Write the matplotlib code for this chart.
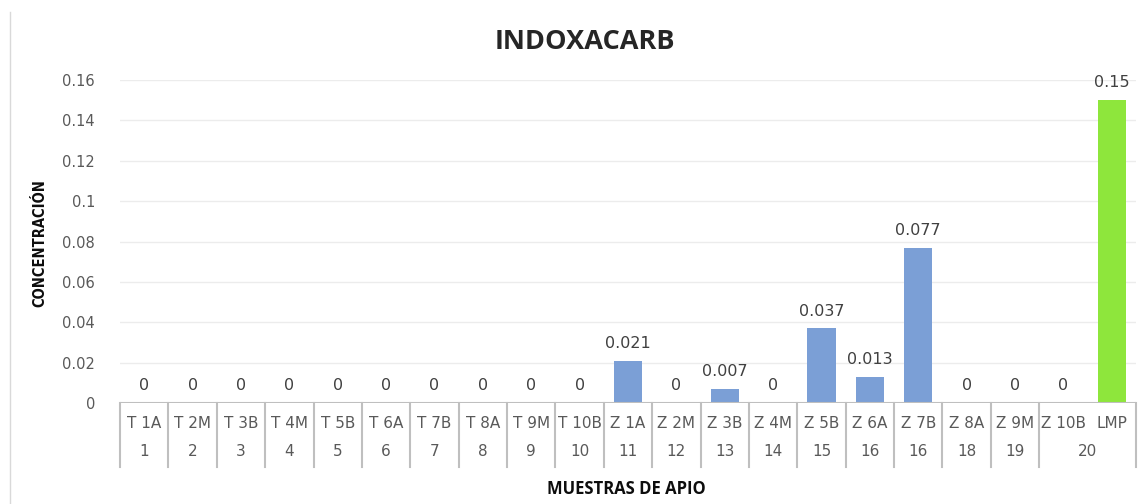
import matplotlib
matplotlib.use("Agg")
import matplotlib.pyplot as plt
from matplotlib.lines import Line2D

samples = ["T 1A", "T 2M", "T 3B", "T 4M", "T 5B", "T 6A", "T 7B", "T 8A", "T 9M", "T 10B",
           "Z 1A", "Z 2M", "Z 3B", "Z 4M", "Z 5B", "Z 6A", "Z 7B", "Z 8A", "Z 9M", "Z 10B", "LMP"]
groups = ["1", "2", "3", "4", "5", "6", "7", "8", "9", "10",
          "11", "12", "13", "14", "15", "16", "16", "18", "19", "20", "20"]
values = [0, 0, 0, 0, 0, 0, 0, 0, 0, 0,
          0.021, 0, 0.007, 0, 0.037, 0.013, 0.077, 0, 0, 0, 0.15]
labels = ["0", "0", "0", "0", "0", "0", "0", "0", "0", "0",
          "0.021", "0", "0.007", "0", "0.037", "0.013", "0.077", "0", "0", "0", "0.15"]
yticks = [0, 0.02, 0.04, 0.06, 0.08, 0.1, 0.12, 0.14, 0.16]
ytick_labels = ["0", "0.02", "0.04", "0.06", "0.08", "0.1", "0.12", "0.14", "0.16"]

BLUE = "#7b9fd6"
GREEN = "#8ee63c"
TXT = "#595959"

W, H = 1144, 504
fig = plt.figure(figsize=(W / 100, H / 100), dpi=100)
x0, x1, y0, y1 = 120, 1136, 403, 80
ax = fig.add_axes([x0 / W, 1 - y0 / H, (x1 - x0) / W, (y0 - y1) / H])

n = len(samples)
xs = list(range(n))
colors = [BLUE] * (n - 1) + [GREEN]
ax.bar(xs, values, width=0.58, color=colors, zorder=3)
for x, v, lab in zip(xs, values, labels):
    ax.annotate(lab, (x, v), xytext=(0, 7), textcoords="offset points",
                ha="center", va="bottom", fontsize=11.5, color="#404040",
                family="DejaVu Sans", annotation_clip=False)

ax.set_xlim(-0.5, n - 0.5)
ax.set_ylim(0, 0.16)
ax.set_yticks(yticks)
ax.set_yticklabels(ytick_labels, fontsize=10.5, color=TXT, family="DejaVu Sans")
ax.yaxis.grid(True, color="#ececec", linewidth=1, zorder=0)
ax.tick_params(axis="y", length=0, pad=18)
ax.set_xticks([])
for s in ax.spines.values():
    s.set_visible(False)
ax.axhline(0, color="#bfbfbf", linewidth=1.5, zorder=4)

# multi-level category axis
tr = ax.get_xaxis_transform()
row1 = (403 - 424) / (y0 - y1)
row2 = (403 - 452) / (y0 - y1)
bot = (403 - 467) / (y0 - y1)
for i in range(n + 1):
    xb = i - 0.5
    if i == n - 1:
        continue
    ax.add_line(Line2D([xb, xb], [0, bot], transform=tr, color="#bfbfbf",
                       linewidth=1.5, clip_on=False))
for x, s in zip(xs, samples):
    ax.text(x, row1, s, transform=tr, ha="center", va="center",
            fontsize=11, color=TXT, family="DejaVu Sans")
i = 0
while i < n:
    j = i
    if groups[i] == "20":
        while j + 1 < n and groups[j + 1] == groups[i]:
            j += 1
    ax.text((i + j) / 2, row2, groups[i], transform=tr, ha="center", va="center",
            fontsize=11, color=TXT, family="DejaVu Sans")
    i = j + 1

fig.text(585 / W, 1 - 42 / H, "INDOXACARB", ha="center", va="center",
         fontsize=19.5, fontweight="bold", color="#262626", family="Open Sans")
fig.text(626 / W, 1 - 489 / H, "MUESTRAS DE APIO", ha="center", va="center",
         fontsize=12, fontweight="bold", color="#0d0d0d", family="Open Sans")
fig.text(40 / W, 1 - 243 / H, "CONCENTRACIÓN", ha="center", va="center",
         rotation=90, fontsize=10.5, fontweight="bold", color="#0d0d0d",
         family="DejaVu Sans", stretch="condensed")

fig.add_artist(Line2D([10 / W, 10 / W], [0, 1 - 12 / H], transform=fig.transFigure,
                      color="#d9d9d9", linewidth=1))

fig.savefig("out.png", dpi=100)
